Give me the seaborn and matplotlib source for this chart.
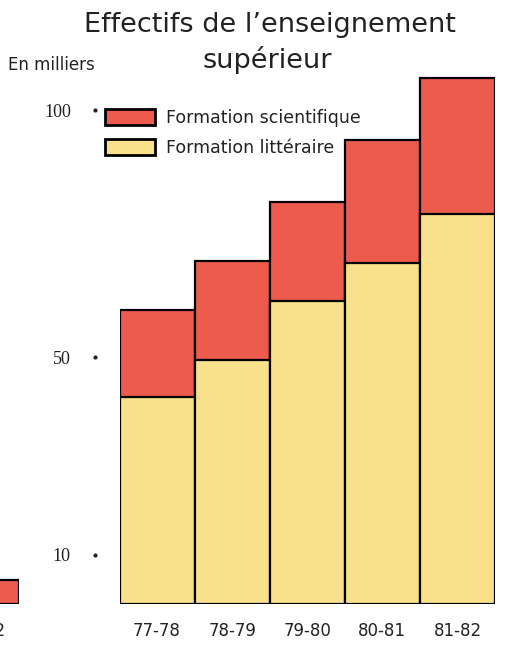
import matplotlib
matplotlib.use("Agg")
import matplotlib.pyplot as plt
from matplotlib.patches import Patch
import seaborn as sns
import pandas as pd

# données (en milliers)
annees = ["77-78", "78-79", "79-80", "80-81", "81-82"]
litteraire = [42, 49.5, 61.5, 69, 79]
scientifique = [17.5, 20, 20, 25, 27.5]
yticks = [10, 50, 100]

# bout du graphique voisin, coupé à gauche
voisin_annee = ["81-82"]
voisin_valeur = [5]

ROUGE = "#EC5B4C"
JAUNE = "#F8E18A"
ENCRE = "#222222"

sns.set_style("white")
plt.rcParams["font.family"] = ["DejaVu Sans"]

df = pd.DataFrame({"annee": annees, "litt": litteraire, "sci": scientifique})
df["total"] = df["litt"] + df["sci"]

W, H = 505, 646
fig = plt.figure(figsize=(W / 100, H / 100), dpi=100)
bas, haut = 604.3, 70.8
ax = fig.add_axes([119.5 / W, (H - bas) / H, 375.5 / W, (bas - haut) / H])

# barres empilées : total en rouge, puis partie littéraire en jaune par-dessus
sns.barplot(data=df, x="annee", y="total", color=ROUGE, saturation=1, width=1,
            edgecolor="black", linewidth=1.6, ax=ax)
sns.barplot(data=df, x="annee", y="litt", color=JAUNE, saturation=1, width=1,
            edgecolor="black", linewidth=1.6, ax=ax)

ax.set_xlim(-0.5, len(annees) - 0.5)
ax.set_ylim(0, 108)
for s in ax.spines.values():
    s.set_visible(False)
ax.set_xlabel("")
ax.set_ylabel("")
ax.tick_params(axis="x", length=0, pad=13, labelsize=12, labelcolor=ENCRE)
ax.set_yticks(yticks)
ax.set_yticklabels([str(v) for v in yticks], family=["Liberation Serif", "DejaVu Serif"],
                   fontsize=13, color=ENCRE)
ax.tick_params(axis="y", length=0, pad=35)
# petits points à la place des graduations
ax.plot([-0.065] * len(yticks), yticks, "o", ms=2, color=ENCRE,
        transform=ax.get_yaxis_transform(), clip_on=False)

# légende
handles = [Patch(facecolor=ROUGE, edgecolor="black", linewidth=2),
           Patch(facecolor=JAUNE, edgecolor="black", linewidth=2)]
ax.legend(handles, ["Formation scientifique", "Formation littéraire"],
          loc="upper left", bbox_to_anchor=(105 / W, 1 - 109 / H),
          bbox_transform=fig.transFigure, frameon=False, fontsize=12.5,
          handlelength=2.9, handleheight=1.05, handletextpad=0.6,
          labelspacing=0.7, borderpad=0, borderaxespad=0,
          labelcolor=ENCRE)

# titre et unité
fig.text(270 / W, 1 - 32 / H, "Effectifs de l’enseignement", ha="center",
         va="baseline", fontsize=19.5, color=ENCRE)
fig.text(267 / W, 1 - 68 / H, "supérieur", ha="center", va="baseline",
         fontsize=19.5, color=ENCRE)
fig.text(8 / W, 1 - 70 / H, "En milliers", ha="left", va="baseline",
         fontsize=12, color=ENCRE)

# fragment du graphique voisin
ax2 = fig.add_axes([-56 / W, (H - bas) / H, 75 / W, (bas - haut) / H])
sns.barplot(x=voisin_annee, y=voisin_valeur, color=ROUGE, saturation=1, width=1,
            edgecolor="black", linewidth=1.6, ax=ax2)
ax2.set_xlim(-0.5, 0.5)
ax2.set_ylim(0, 108)
for s in ax2.spines.values():
    s.set_visible(False)
ax2.set_yticks([])
ax2.set_xlabel("")
ax2.set_ylabel("")
ax2.tick_params(axis="x", length=0, pad=13, labelsize=12, labelcolor=ENCRE)

fig.savefig("out.png", dpi=100)
